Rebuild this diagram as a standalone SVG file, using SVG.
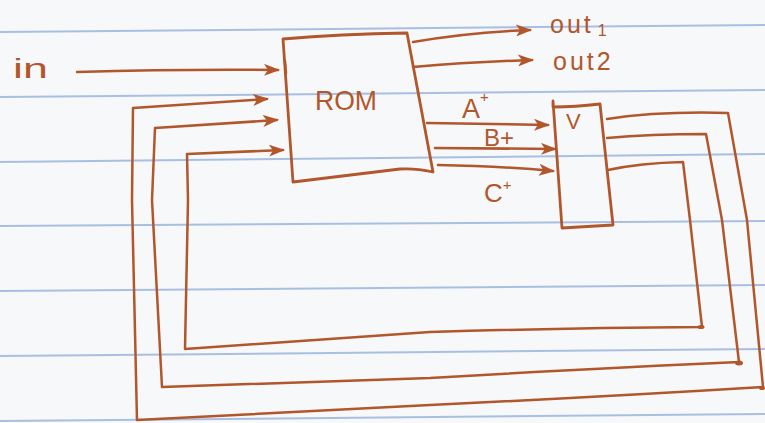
<svg xmlns="http://www.w3.org/2000/svg" width="765" height="423" viewBox="0 0 765 423">
<style>
.rule{stroke:#a9bfe2;stroke-width:2;fill:none}
.ink{stroke:#b2562c;stroke-width:2.5;fill:none;stroke-linecap:round;stroke-linejoin:round}
.box{stroke:#b2562c;stroke-width:2.8;fill:none;stroke-linejoin:round}
.txt{fill:#b2562c;font-family:"Liberation Sans","DejaVu Sans",sans-serif}
</style>
<defs>
<marker id="ah" viewBox="0 0 16 12" refX="14" refY="6" markerWidth="16" markerHeight="12" markerUnits="userSpaceOnUse" orient="auto">
<path d="M0,0 L16,6 L0,12 L4,6 Z" fill="#b2562c"/>
</marker>
</defs>
<rect width="765" height="423" fill="#f6f8fa"/>
<g id="paper">
<line class="rule" x1="0" y1="32" x2="765" y2="25"/>
<line class="rule" x1="0" y1="97" x2="765" y2="90"/>
<line class="rule" x1="0" y1="162" x2="765" y2="154"/>
<line class="rule" x1="0" y1="226" x2="765" y2="221"/>
<line class="rule" x1="0" y1="291" x2="765" y2="285"/>
<line class="rule" x1="0" y1="356" x2="765" y2="349"/>
<line class="rule" x1="0" y1="421" x2="765" y2="414"/>
</g>
<g id="rom">
<path class="box" d="M283,39 Q340,34 407,33 L433,172 Q415,168 400,169 L293,182 Z"/>
<line class="ink" x1="285" y1="61" x2="286" y2="73"/>
<text class="txt" x="315" y="110" font-size="28" textLength="62" lengthAdjust="spacingAndGlyphs">ROM</text>
</g>
<g id="vbox">
<path class="box" d="M553,101 L553,107 Q575,107 600,104 L613,225 L562,228 Z"/>
<text class="txt" x="566" y="129" font-size="22">V</text>
</g>
<g id="labels">
<text class="txt" x="13" y="78" font-size="28" textLength="35" lengthAdjust="spacingAndGlyphs">in</text>
<text class="txt" x="550" y="33" font-size="25" letter-spacing="3">out<tspan font-size="16" dy="3" dx="4">1</tspan></text>
<text class="txt" x="553" y="70" font-size="25" letter-spacing="3">out2</text>
<text class="txt" x="462" y="118" font-size="27">A<tspan font-size="15" dy="-16">+</tspan></text>
<text class="txt" x="484" y="146" font-size="24">B+</text>
<text class="txt" x="484" y="202" font-size="26">C<tspan font-size="15" dy="-12">+</tspan></text>
</g>
<g id="connectors">
<path class="ink" d="M77,72 Q180,69 278,70" marker-end="url(#ah)"/>
<path class="ink" d="M413,42 Q470,32 530,30" marker-end="url(#ah)"/>
<path class="ink" d="M413,67 Q470,62 532,60" marker-end="url(#ah)"/>
<path class="ink" d="M427,123 L548,125" marker-end="url(#ah)"/>
<path class="ink" d="M435,148 L555,149" marker-end="url(#ah)"/>
<path class="ink" d="M438,165 Q500,166 553,171" marker-end="url(#ah)"/>
<path class="ink" d="M607,119 Q660,111 728,113 L747,220 L763,387 Q600,397 430,405 Q300,412 137,420 L132,200 L133,108 L267,99" marker-end="url(#ah)"/>
<path class="ink" d="M607,138 Q650,134 706,134 L722,220 L739,362 Q600,368 430,378 L162,387 L152,200 L155,128 L277,120" marker-end="url(#ah)"/>
<path class="ink" d="M608,170 Q640,163 683,162 L690,220 L702,327 Q560,328 430,332 L185,349 L188,200 L187,154 L283,150" marker-end="url(#ah)"/>
<ellipse cx="701" cy="327" rx="3.5" ry="2" fill="#b2562c"/>
<ellipse cx="739" cy="363" rx="4" ry="2.5" fill="#b2562c"/>
<ellipse cx="762" cy="388" rx="3" ry="2" fill="#b2562c"/>
</g>
</svg>
